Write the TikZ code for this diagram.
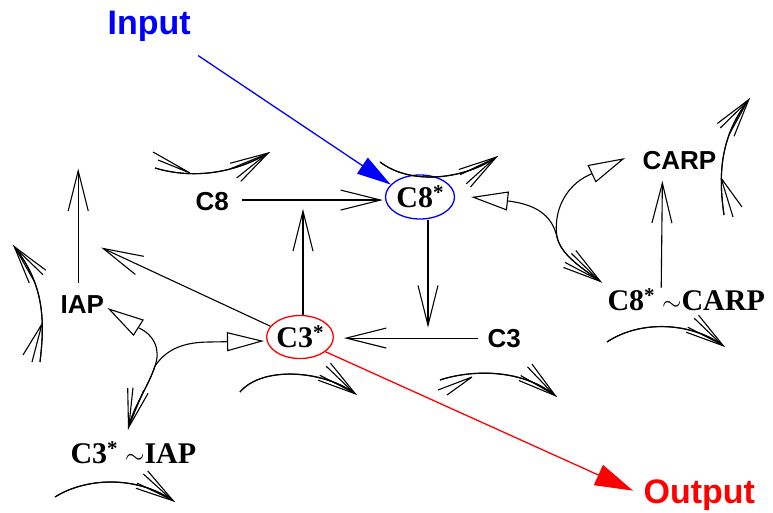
\documentclass[tikz,border=0pt]{standalone}
\usepackage{fontspec}
\setmainfont{Liberation Serif}
\setsansfont{Liberation Sans}
\usetikzlibrary{arrows.meta,shapes.geometric,calc}
\newcommand{\stx}{\raisebox{8pt}{\fontsize{21}{21}\selectfont *}}
\begin{document}
\begin{tikzpicture}[x=1pt,y=-1pt,line width=1.1pt,
  sl/.style={font=\sffamily\bfseries\fontsize{26}{30}\selectfont, inner sep=0pt, anchor=base west},
  rl/.style={font=\rmfamily\bfseries\fontsize{30}{34}\selectfont, inner sep=0pt},
  big/.style={font=\sffamily\bfseries\fontsize{34}{40}\selectfont, inner sep=0pt, anchor=base west},
  sb/.style={-{Straight Barb[length=40pt,width=20pt]}},
  opentri/.style={-{Triangle[open,length=37pt,width=19pt]}},
  dh/.style={-{Straight Barb[length=38pt,width=21pt]}, postaction={draw,-{Straight Barb[length=38pt,width=11pt]}}},
  ell/.style={ellipse, rl, line width=1.3pt}
]
\useasboundingbox (0,0) rectangle (773,513);

% nodes
\node[big, text=blue] (in) at (107,35) {Input};
\node[big, text=red] (out) at (643,503) {Output};
\node[sl] (c8) at (195,211) {C8};
\node[ell, draw=blue, minimum width=69pt, minimum height=44pt] (c8s) at (420,197) {C8\stx};
\node[sl] (iap) at (60,313) {IAP};
\node[ell, draw=red, minimum width=66pt, minimum height=43pt] (c3s) at (300,337) {C3\stx};
\node[sl] (c3) at (487,347) {C3};
\node[sl] (carp) at (642,170) {CARP};
\node[rl, anchor=base west] (c8carp) at (607,310) {C8\stx{} $\sim$CARP};
\node[rl, anchor=base west] (c3iap) at (70,463) {C3\stx{} $\sim$IAP};

% input / output
\draw[blue, line width=1.3pt, -{Triangle[length=34pt,width=19pt]}] ($(in.south east)+(7,13)$) -- (c8s.157);
\draw[red, line width=1.3pt, -{Triangle[length=38pt,width=22pt]}] (c3s.-30) -- ($(out.west)+(-10,-4)$);

% straight reactions
\draw[sb] ($(c8.east)+(13,-2)$) -- ($(c8.east -| c8s.west)+(-2,-2)$);
\draw[sb] ($(c8s.south)+(8,0)$) -- ++(0,108);
\draw[sb] ($(c3.west)+(-9,0)$) -- ($(c3.west -| c3s.east)+(10,0)$);
\draw[sb] ($(c3s.north)+(3,0)$) -- ++(0,-106);
\draw[sb] (c3s.160) -- ($(iap.north)+(19,-47)$);
\draw[sb] ($(iap.north)+(-4,-12)$) -- ++(0,-114);
\draw[sb] ($(c8carp.north)+(-25,0)$) -- ($(carp.south)+(-17,10)$);

% C8* + CARP <-> C8*~CARP
\coordinate (j1) at (557,237);
\draw[opentri] (j1) .. controls (553,220) and (542,205) .. (508,201) -- ($(c8s.east)+(16,0)$);
\draw[opentri] (j1) .. controls (553,212) and (565,186) .. (589,175) -- ($(carp.west)+(-17,-3)$);
\draw[dh] (j1) .. controls (561,255) and (582,268) .. ($(c8carp.north west)+(-5,-5)$);

% C3* + IAP <-> C3*~IAP
\coordinate (j2) at (155,366);
\draw[opentri] (j2) .. controls (161,349) and (154,335) .. (139,328) -- ($(iap.east)+(3,4)$);
\draw[opentri] (j2) .. controls (166,350) and (182,342) .. (210,342) -- ($(c3s.west)+(-2,4)$);
\draw[dh] (j2) .. controls (149,385) and (134,406) .. ($(c3iap.north west)+(58,-11)$);

% production / degradation arrows
\draw[dh] (155,168) .. controls (195,180) and (236,172) .. (270,152);
\draw (153,152) -- (190,173) (158,160) -- (190,173);
\draw[dh] (380,162) .. controls (410,185) and (462,180) .. (498,156);
\draw[dh] (724,215) .. controls (719,180) and (718,140) .. (750,98);
\draw (733,217) -- (721,178) (742,207) -- (721,178);
\draw[dh] (40,362) .. controls (45,320) and (44,285) .. (13,245);
\draw (23,355) -- (42,324) (32,362) -- (42,324);
\draw[dh] (607,342) .. controls (640,320) and (690,322) .. (725,347);
\draw[dh] (240,392) .. controls (262,366) and (322,370) .. (357,395);
\draw[dh] (440,380) .. controls (470,370) and (520,368) .. (557,397);
\draw (438,390) -- (472,377) (447,395) -- (472,377);
\draw[dh] (55,497) .. controls (85,478) and (135,475) .. (175,502);
\end{tikzpicture}
\end{document}
